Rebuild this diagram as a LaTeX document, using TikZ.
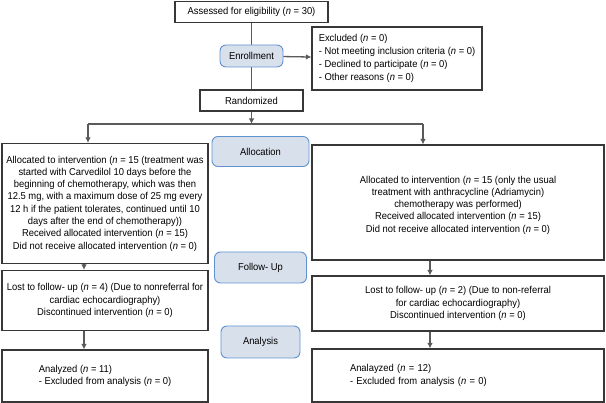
\documentclass[tikz,border=0pt]{standalone}
\usepackage{fontspec}
\setmainfont{Liberation Sans}[FakeStretch=0.94]
\usetikzlibrary{arrows.meta,backgrounds}

\tikzset{every picture/.style={line width=1.1pt}}
\def \lColX {105}
\def \rColX {458}
\def \lArrX {84}
\def \rArrX {430}
\def \stageX {260.5}

\tikzset{
	txtfont/.style={font=\fontsize{10}{12.3}\selectfont},
	plainbox/.style={txtfont,draw={rgb, 255:red, 55; green, 55; blue, 55 },fill=white,inner sep=2pt,align=center},
	stagebox/.style={txtfont,draw={rgb, 255:red, 96; green, 146; blue, 208 },fill={rgb, 255:red, 216; green, 224; blue, 236 },rounded corners=6pt,inner sep=2pt,line width=0.9pt},
	link/.style={draw={rgb, 255:red, 90; green, 90; blue, 90 },line width=1.3pt},
	linkarrow/.style={link,-{Latex[length=5.5pt,width=5.5pt]}}
}

\begin{document}
\begin{tikzpicture}[x=1pt,y=1pt,yscale=-1,xscale=1]
	\useasboundingbox (0,0) rectangle (606,403);

	% Enrollment
	\node [plainbox,minimum width=153,minimum height=21] (assess) at (251.5,12) {Assessed for eligibility (\textit{n} = 30)};
	\node [plainbox,minimum width=170,minimum height=63,align=left,font=\fontsize{10}{13.2}\selectfont] (excl) at (397,58.5) {Excluded (\textit{n} = 0)\\- Not meeting inclusion criteria (\textit{n} = 0)\\- Declined to participate (\textit{n} = 0)\\- Other reasons (\textit{n} = 0)};
	\node [plainbox,minimum width=103,minimum height=21] (rand) at (251.5,100.5) {Randomized};
	\begin{scope}[on background layer]
		\draw [link] (assess) -- (rand);
	\end{scope}
	\node [stagebox,minimum width=63,minimum height=22] (enrol) at (251.5,56) {Enrollment};
	\draw [linkarrow] (enrol) -- (excl);

	% Allocation
	\node [stagebox,minimum width=97,minimum height=30] (alloc) at (\stageX,151.5) {Allocation};
	\node [plainbox,minimum width=206,minimum height=120] (lalloc) at (\lColX,203.5) {Allocated to intervention (\textit{n} = 15 (treatment was\\started with Carvedilol 10 days before the\\beginning of chemotherapy, which was then\\12.5 mg, with a maximum dose of 25 mg every\\12 h if the patient tolerates, continued until 10\\days after the end of chemotherapy))\\Received allocated intervention (\textit{n} = 15)\\Did not receive allocated intervention (\textit{n} = 0)};
	\node [plainbox,minimum width=292,minimum height=115] (ralloc) at (\rColX,202.5) {\mbox{}\\Allocated to intervention (\textit{n} = 15 (only the usual\\treatment with anthracycline (Adriamycin)\\chemotherapy was performed)\\Received allocated intervention (\textit{n} = 15)\\Did not receive allocated intervention (\textit{n} = 0)};

	\coordinate (split) at (251.5,124);
	\coordinate (lsplit) at (88,124);
	\coordinate (rsplit) at (423,124);
	\draw [linkarrow] (rand) -- (split);
	\draw [link] (lsplit) -- (rsplit);
	\draw [linkarrow] (lsplit) -- (lsplit |- lalloc.north);
	\draw [linkarrow] (rsplit) -- (rsplit |- ralloc.north);

	% Follow- Up
	\node [stagebox,minimum width=92,minimum height=31] (follow) at (\stageX,267.5) {Follow- Up};
	\node [plainbox,minimum width=206,minimum height=60] (llost) at (\lColX,300.5) {Lost to follow- up (\textit{n} = 4) (Due to nonreferral for\\cardiac echocardiography)\\Discontinued intervention (\textit{n} = 0)};
	\node [plainbox,minimum width=292,minimum height=55] (rlost) at (\rColX,303.5) {Lost to follow- up (\textit{n} = 2) (Due to non-referral\\for cardiac echocardiography)\\Discontinued intervention (\textit{n} = 0)};

	% Analysis
	\node [stagebox,minimum width=79,minimum height=32] (anal) at (\stageX,342) {Analysis};
	\node [plainbox,minimum width=206,minimum height=52,align=left] (lanal) at (\lColX,376) {Analyzed (\textit{n} = 11)\\- Excluded from analysis (\textit{n} = 0)};
	\node [plainbox,minimum width=292,minimum height=53,text width=216,inner xsep=38,align=left] (ranal) at (\rColX,375.5) {Analayzed (\textit{n} = 12)\\- Excluded from analysis (\textit{n} = 0)};

	\coordinate (larr) at (\lArrX,0);
	\coordinate (rarr) at (\rArrX,0);
	\draw [linkarrow] (larr |- lalloc.south) -- (larr |- llost.north);
	\draw [linkarrow] (larr |- llost.south) -- (larr |- lanal.north);
	\draw [linkarrow] (rarr |- ralloc.south) -- (rarr |- rlost.north);
	\draw [linkarrow] (rarr |- rlost.south) -- (rarr |- ranal.north);

\end{tikzpicture}
\end{document}
